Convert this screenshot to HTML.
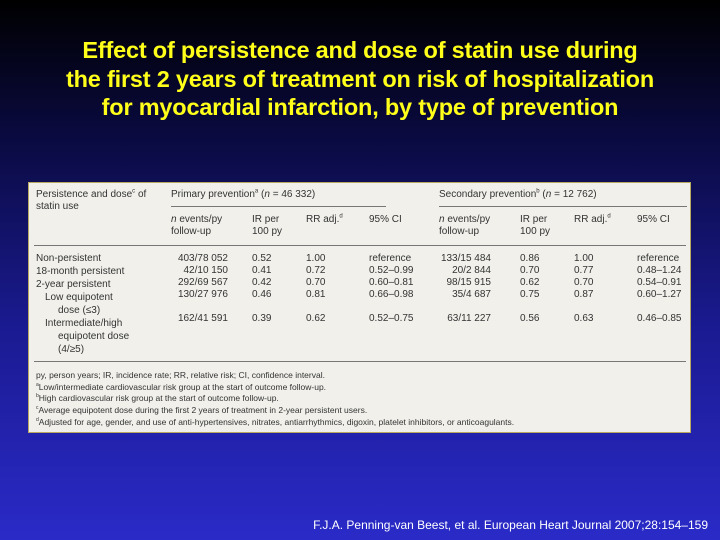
<!DOCTYPE html>
<html><head><meta charset="utf-8"><style>
body{margin:0;width:720px;height:540px;overflow:hidden;background:linear-gradient(#000 0%,#0a0a40 25%,#1a1a90 60%,#2a2ac8 100%);font-family:"Liberation Sans",sans-serif;position:relative}
#title{position:absolute;left:0;top:36px;width:720px;text-align:center;color:#ffff1a;font-weight:bold;font-size:23.5px;line-height:28.5px;letter-spacing:-0.2px}
#tbl{position:absolute;left:28px;top:182px;width:663px;height:251px;background:#f1f0eb;border:1px solid #b8a860;box-sizing:border-box}
#tbl span{position:absolute;font-size:10px;color:#333;white-space:nowrap;line-height:12px}
sup{line-height:0;vertical-align:super}
.r{text-align:right}
.ln{position:absolute;height:1px;background:#777}
#cite{position:absolute;right:12px;top:518px;color:#fff;font-size:12px}
</style></head><body>
<div id="title">Effect of persistence and dose of statin use during<br>the first 2 years of treatment on risk of hospitalization<br>for myocardial infarction, by type of prevention</div>
<div id="tbl">
<span style="left:7px;top:6px">Persistence and dose<sup style="font-size:6px">c</sup> of<br>statin use</span>
<span style="left:142px;top:6px">Primary prevention<sup style="font-size:6px">a</sup> (<i>n</i> = 46 332)</span>
<span style="left:410px;top:6px">Secondary prevention<sup style="font-size:6px">b</sup> (<i>n</i> = 12 762)</span>
<div class="ln" style="left:142px;top:23px;width:215px"></div>
<div class="ln" style="left:410px;top:23px;width:248px"></div>
<span style="left:142px;top:31px"><i>n</i> events/py<br>follow-up</span>
<span style="left:223px;top:31px">IR per<br>100 py</span>
<span style="left:277px;top:31px">RR adj.<sup style="font-size:6px">d</sup></span>
<span style="left:340px;top:31px">95% CI</span>
<span style="left:410px;top:31px"><i>n</i> events/py<br>follow-up</span>
<span style="left:491px;top:31px">IR per<br>100 py</span>
<span style="left:545px;top:31px">RR adj.<sup style="font-size:6px">d</sup></span>
<span style="left:608px;top:31px">95% CI</span>
<div class="ln" style="left:5px;top:62px;width:652px"></div>
<div style="position:absolute;left:0;top:70px">
<span style="left:7px;top:0">Non-persistent</span>
<span style="left:7px;top:13px">18-month persistent</span>
<span style="left:7px;top:26px">2-year persistent</span>
<span style="left:16px;top:39px">Low equipotent</span>
<span style="left:29px;top:52px">dose (≤3)</span>
<span style="left:16px;top:65px">Intermediate/high</span>
<span style="left:29px;top:78px">equipotent dose</span>
<span style="left:29px;top:91px">(4/≥5)</span>
<span class="r" style="left:142px;top:0;width:57px">403/78 052<br>42/10 150<br>292/69 567<br>130/27 976<br><br>162/41 591</span>
<span style="left:223px;top:0">0.52<br>0.41<br>0.42<br>0.46<br><br>0.39</span>
<span style="left:277px;top:0">1.00<br>0.72<br>0.70<br>0.81<br><br>0.62</span>
<span style="left:340px;top:0">reference<br>0.52–0.99<br>0.60–0.81<br>0.66–0.98<br><br>0.52–0.75</span>
<span class="r" style="left:400px;top:0;width:62px">133/15 484<br>20/2 844<br>98/15 915<br>35/4 687<br><br>63/11 227</span>
<span style="left:491px;top:0">0.86<br>0.70<br>0.62<br>0.75<br><br>0.56</span>
<span style="left:545px;top:0">1.00<br>0.77<br>0.70<br>0.87<br><br>0.63</span>
<span style="left:608px;top:0">reference<br>0.48–1.24<br>0.54–0.91<br>0.60–1.27<br><br>0.46–0.85</span>
</div>
<div class="ln" style="left:5px;top:178px;width:652px"></div>
<span style="left:7px;top:187px;font-size:8.5px;line-height:11.7px">py, person years; IR, incidence rate; RR, relative risk; CI, confidence interval.<br><sup style="font-size:5px">a</sup>Low/intermediate cardiovascular risk group at the start of outcome follow-up.<br><sup style="font-size:5px">b</sup>High cardiovascular risk group at the start of outcome follow-up.<br><sup style="font-size:5px">c</sup>Average equipotent dose during the first 2 years of treatment in 2-year persistent users.<br><sup style="font-size:5px">d</sup>Adjusted for age, gender, and use of anti-hypertensives, nitrates, antiarrhythmics, digoxin, platelet inhibitors, or anticoagulants.</span>
</div>
<div id="cite">F.J.A. Penning-van Beest, et al. European Heart Journal 2007;28:154–159</div>
</body></html>
